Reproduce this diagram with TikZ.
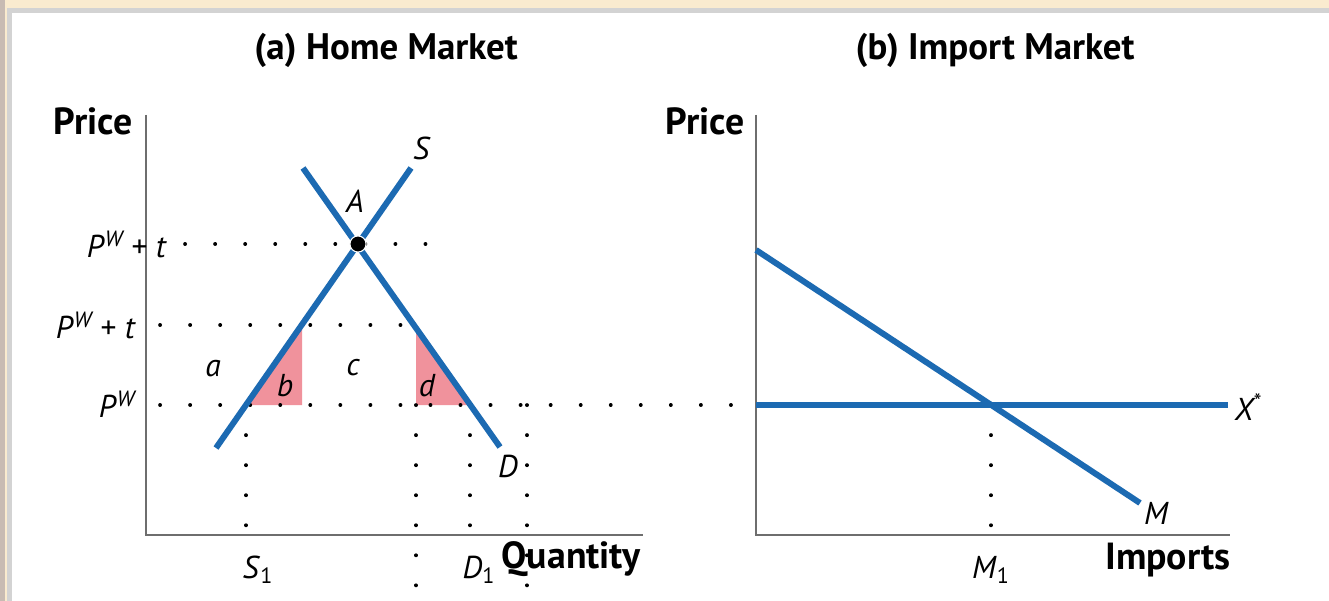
\documentclass[tikz,border=0pt]{standalone}
\usepackage{fontspec}
\setmainfont{PT Sans}
\usetikzlibrary{positioning}
\definecolor{curveblue}{HTML}{1C6AB2}
\definecolor{losspink}{HTML}{F0929C}
\definecolor{axisgray}{HTML}{6E6E6E}
\definecolor{framebeige}{HTML}{FAEBCF}
\definecolor{framegray}{HTML}{D3D3D3}
\definecolor{framebrown}{HTML}{C8BBB3}
\tikzset{
  axisline/.style={draw=axisgray, line width=1.2pt},
  curve/.style={draw=curveblue, line width=3.4pt},
  guide/.style={draw=black, line width=2.1pt, line cap=round, dash pattern=on 0.1pt off 17pt},
  loss/.style={fill=losspink, draw=none},
  paneltitle/.style={font=\fontsize{21}{24}\selectfont\bfseries},
  axislabel/.style={font=\fontsize{21.5}{24}\selectfont\bfseries},
  curvelabel/.style={font=\fontsize{18}{21}\selectfont\itshape},
  pricelabel/.style={font=\fontsize{18}{21}\selectfont},
}
\newcommand{\pworld}{\textit{P}\textsuperscript{\itshape W}}
\begin{document}
\begin{tikzpicture}[x=0.02cm, y=-0.02cm]
  \useasboundingbox (0,0) rectangle (1329,601);
  % frame
  \fill[white] (0,0) rectangle (1329,601);
  \fill[framebeige] (0,0) rectangle (1329,8);
  \fill[framegray] (7,8) rectangle (1329,13);
  \fill[framebrown] (0,0) rectangle (5,601);
  \fill[framebeige] (5,8) rectangle (7,601);
  \fill[framegray] (7,8) rectangle (12,601);

  % (a) home market
  \coordinate (O1) at (146,535);
  \coordinate (ytop1) at (146,115);
  \coordinate (xend1) at (643,535);
  \coordinate (s0) at (216,448);
  \coordinate (s1) at (411,168);
  \coordinate (d0) at (303,168);
  \coordinate (d1) at (500,447);
  \coordinate (A) at (358,244);
  \coordinate (sw) at (246,405);
  \coordinate (sq) at (302,325);
  \coordinate (dq) at (416,325);
  \coordinate (dw) at (470,405);

  \fill[loss] (sw) -- (sq |- sw) -- (sq) -- cycle;
  \fill[loss] (dq) -- (dq |- dw) -- (dw) -- cycle;

  \coordinate (tl) at (185,244);
  \coordinate (tr) at (445,244);
  \coordinate (ql) at (160,325);
  \coordinate (wl) at (160,405);
  \coordinate (wr) at (740,405);
  \coordinate (far) at (527,405);
  \draw[guide] (tl) -- (tr);
  \draw[guide] (ql) -- (dq);
  \draw[guide] (wl) -- (wr);
  \draw[guide] (sw) -- (sw |- O1);
  \draw[guide] (dq |- dw) -- ++(0,196);
  \draw[guide] (dw) -- (dw |- O1);
  \draw[guide] (far) -- ++(0,196);

  \draw[axisline] (ytop1) -- (O1) -- (xend1);
  \draw[curve] (s0) -- (s1);
  \draw[curve] (d0) -- (d1);
  \fill[black, draw=white, line width=0.6pt] (A) circle[radius=4.6pt];

  \node[paneltitle] (titleA) at (386,50) {(a) Home Market};
  \node[axislabel] (price1) at (93,121) {Price};
  \node[axislabel] (qty) at (571,559) {Quantity};
  \node[curvelabel] (Slab) at (421,148) {S};
  \node[curvelabel] (Alab) at (355,201) {A};
  \node[curvelabel] (Dlab) at (508,466) {D};
  \node[pricelabel] (ptop) at (127,244) {\pworld\ + \textit{t}};
  \node[pricelabel] (pmid) at (96,325) {\pworld\ + \textit{t}};
  \node[pricelabel] (pw) at (117,404) {\pworld};
  \node[curvelabel] (areaA) at (213,369) {a};
  \node[curvelabel] (areaB) at (285,386) {b};
  \node[curvelabel] (areaC) at (353,368) {c};
  \node[curvelabel] (areaD) at (427,386) {d};
  \node[pricelabel] (S1lab) at (258,570) {\textit{S}\textsubscript{1}};
  \node[pricelabel] (D1lab) at (479,570) {\textit{D}\textsubscript{1}};

  % (b) import market
  \coordinate (O2) at (756,535);
  \coordinate (ytop2) at (756,115);
  \coordinate (xend2) at (1230,535);
  \coordinate (m0) at (756,250);
  \coordinate (m1) at (1140,503);
  \coordinate (x0) at (756,405);
  \coordinate (x1) at (1228,405);
  \coordinate (E) at (991,405);
  \coordinate (Ebot) at (991,530);

  \draw[guide] (E) -- (Ebot);
  \draw[axisline] (ytop2) -- (O2) -- (xend2);
  \draw[curve] (x0) -- (x1);
  \draw[curve] (m0) -- (m1);

  \node[paneltitle] (titleB) at (995,50) {(b) Import Market};
  \node[axislabel] (price2) at (705,121) {Price};
  \node[axislabel] (imp) at (1168,560) {Imports};
  \node[curvelabel] (Xlab) at (1248,407) {X\textsuperscript{*}};
  \node[curvelabel] (Mlab) at (1156,513) {M};
  \node[pricelabel] (M1lab) at (991,570) {\textit{M}\textsubscript{1}};
\end{tikzpicture}
\end{document}
